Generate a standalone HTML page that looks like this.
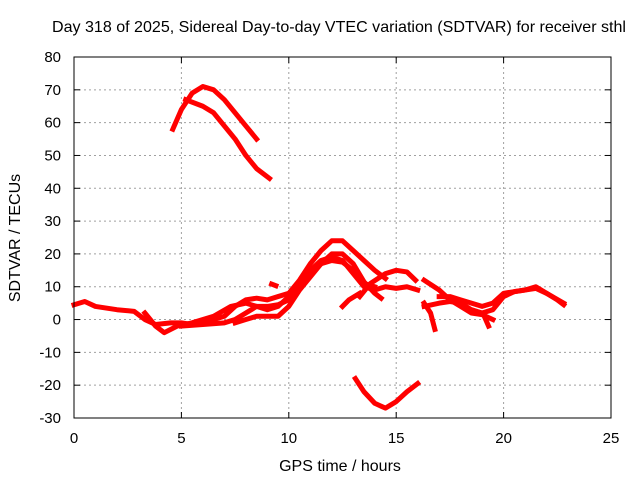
<!DOCTYPE html>
<html><head><meta charset="utf-8"><style>
body{margin:0;background:#fff}
svg text{font-family:"Liberation Sans",sans-serif;font-size:15px;fill:#000}
svg text.big{font-size:16px}
</style></head><body>
<svg id="chart" width="640" height="480" xmlns="http://www.w3.org/2000/svg">
<text class="big" x="339" y="32" text-anchor="middle" textLength="574" lengthAdjust="spacingAndGlyphs">Day 318 of 2025, Sidereal Day-to-day VTEC variation (SDTVAR) for receiver sthl</text>
<text class="big" x="340" y="471" text-anchor="middle">GPS time / hours</text>
<text class="big" transform="translate(20,238) rotate(-90)" text-anchor="middle">SDTVAR / TECUs</text>
<g id="grid"></g><g id="series"></g><g id="axes"></g>
</svg>
<script>
const xTicks=[0,5,10,15,20,25];
const yTicks=[-30,-20,-10,0,10,20,30,40,50,60,70,80];
const arcHighA=[[4.6,58],[5,64],[5.5,69],[6,71],[6.5,70],[7,67],[7.5,63],[8,59],[8.5,55]];
const arcHighB=[[5.2,67],[6,65],[6.5,63],[7,59],[7.5,55],[8,50],[8.5,46],[9.1,43]];
const arcNeg=[[13.1,-18],[13.5,-22],[14,-25.5],[14.5,-27],[15,-25],[15.5,-22],[16,-19.5]];
const trackD=[[0,4.5],[0.5,5.5],[1,4],[2,3],[2.8,2.5],[3.3,0],[3.8,-1.5],[4.5,-1],[5,-1],[5.5,-1.5],[6,-1],[7,1],[7.5,4],[8,6],[8.5,6.5],[9,6],[9.5,7],[10,8],[10.5,12],[11,17],[11.5,21],[12,24],[12.5,24],[13,21],[13.5,18],[14,15],[14.5,12.5]];
const trackE=[[3.3,2],[3.8,-2],[4.2,-4],[4.8,-2],[5.5,-1],[6,0],[6.5,1],[7.3,4],[8,5],[8.5,4],[9,3],[9.5,4],[10,7],[10.5,11],[11,15],[11.5,18],[12,19],[12.5,18],[13,14],[13.5,10],[14,9],[14.5,10],[15,9.5],[15.5,10],[16,9]];
const trackF=[[5,-2],[6,-1.5],[7,-1],[7.5,0],[8,2],[8.5,4],[9,4],[9.5,4.5],[10,6],[10.5,10],[11,14],[11.5,17],[12,18],[12.5,17.5],[13,15],[13.5,11],[14,10]];
const trackG=[[7.5,-1],[8,0],[8.5,1],[9,1],[9.5,1],[10,4],[10.5,9],[11,13],[11.5,17],[12,20],[12.5,20],[13,17],[13.5,11.5],[14,8],[14.3,6.5]];
const trackH=[[12.5,4],[12.8,6],[13.3,8]];
const trackI=[[13.3,7],[13.8,11],[14.5,14],[15,15],[15.5,14.5],[15.9,12]];
const trackJ=[[16.3,12],[17,9],[17.5,6],[18,4],[18.5,2],[19,1.5],[19.5,0]];
const trackK=[[16.3,4],[17,5],[17.5,5.5],[18,5],[18.5,3],[19,2],[19.5,3],[20,7],[20.5,8.5],[21,9],[21.5,9.5],[22,8],[22.5,6],[22.8,4.5]];
const trackL=[[16.3,5],[16.6,2],[16.8,-3]];
const trackM=[[17,7],[17.5,7],[18,6],[18.5,5],[19,4],[19.5,5],[20,8],[21,9],[21.5,10],[22,8],[22.8,5]];
const trackN=[[19.1,1],[19.3,-2]];
const trackO=[[9.2,10.8],[9.4,10.3]];
const allSeries=[arcHighA,arcHighB,arcNeg,trackD,trackE,trackF,trackG,trackH,trackI,trackJ,trackK,trackL,trackM,trackN,trackO];
const L=74,R=611,T=57,B=418,xmin=0,xmax=25,ymin=-30,ymax=80;
const sx=v=>L+(v-xmin)/(xmax-xmin)*(R-L);
const sy=v=>B-(v-ymin)/(ymax-ymin)*(B-T);
const NS="http://www.w3.org/2000/svg";
const g=document.getElementById('grid'),s=document.getElementById('series'),a=document.getElementById('axes');
function mk(p,tag,at){const e=document.createElementNS(NS,tag);for(const k in at)e.setAttribute(k,at[k]);p.appendChild(e);return e;}
xTicks.forEach(v=>{
 const x=sx(v);
 if(v>xmin&&v<xmax){const l=mk(g,'line',{x1:x,x2:x,y1:T,y2:B,stroke:'#a0a0a0','stroke-dasharray':'2,3'});
 
 }
 const t=mk(a,'line',{x1:x,x2:x,y1:B,y2:B-6,stroke:'#000'});
 
 
 const t2=mk(a,'line',{x1:x,x2:x,y1:T,y2:T+6,stroke:'#000'});
 
 
 const tx=mk(a,'text',{x:x,y:B+25,'text-anchor':'middle'});tx.textContent=v;
 
 
});
yTicks.forEach(v=>{
 const y=sy(v);
 if(v>ymin&&v<ymax){const l=mk(g,'line',{x1:L,x2:R,y1:y,y2:y,stroke:'#a0a0a0','stroke-dasharray':'2,3'});
 
 }
 const t=mk(a,'line',{x1:L,x2:L+6,y1:y,y2:y,stroke:'#000'});
 
 
 const t2=mk(a,'line',{x1:R,x2:R-6,y1:y,y2:y,stroke:'#000'});
 
 
 const tx=mk(a,'text',{x:L-13,y:y+5,'text-anchor':'end'});tx.textContent=v;
 
 
});
const fr=mk(a,'rect',{x:L,y:T,width:R-L,height:B-T,fill:'none',stroke:'#000'});


allSeries.forEach(ser=>{
 const p=mk(s,'polyline',{points:ser.map(d=>sx(d[0])+','+sy(d[1])).join(' '),fill:'none',stroke:'#ff0000','stroke-width':5,'stroke-linejoin':'round','stroke-linecap':'square'});
 
 
});
</script>
</body></html>
